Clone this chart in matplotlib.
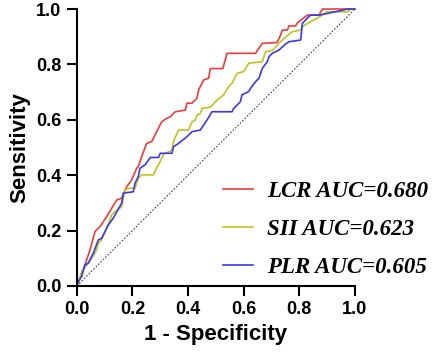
import matplotlib
matplotlib.use("Agg")
import matplotlib.pyplot as plt

# ROC curves (1 - specificity, sensitivity)
lcr_x = [0, 0.005, 0.029, 0.047, 0.065, 0.083, 0.107, 0.125, 0.143, 0.161, 0.179, 0.197,
         0.215, 0.221, 0.233, 0.251, 0.269, 0.287, 0.305, 0.323, 0.336, 0.354, 0.39, 0.396,
         0.414, 0.432, 0.438, 0.456, 0.474, 0.48, 0.525, 0.54, 0.643, 0.649, 0.667, 0.72,
         0.733, 0.739, 0.757, 0.763, 0.787, 0.793, 0.829, 0.871, 0.883, 1.0]
lcr_y = [0, 0.01, 0.076, 0.13, 0.196, 0.214, 0.25, 0.28, 0.31, 0.317, 0.358, 0.383,
         0.425, 0.431, 0.467, 0.515, 0.521, 0.557, 0.593, 0.605, 0.611, 0.629, 0.635, 0.66,
         0.66, 0.678, 0.708, 0.744, 0.75, 0.785, 0.785, 0.84, 0.84, 0.85, 0.876, 0.879,
         0.906, 0.924, 0.924, 0.939, 0.939, 0.95, 0.978, 0.978, 1.0, 1.0]

sii_x = [0, 0.017, 0.041, 0.053, 0.071, 0.077, 0.089, 0.119, 0.125, 0.137, 0.161, 0.173,
         0.191, 0.209, 0.221, 0.233, 0.275, 0.288, 0.3, 0.312, 0.342, 0.348, 0.366, 0.402,
         0.414, 0.426, 0.432, 0.444, 0.45, 0.48, 0.504, 0.528, 0.546, 0.558, 0.577, 0.6,
         0.618, 0.667, 0.679, 0.703, 0.727, 0.745, 0.775, 0.805, 0.811, 0.841, 0.865, 0.901,
         0.974, 0.986, 1.0]
sii_y = [0, 0.052, 0.082, 0.1, 0.13, 0.154, 0.166, 0.238, 0.256, 0.268, 0.286, 0.347,
         0.353, 0.353, 0.389, 0.401, 0.401, 0.428, 0.45, 0.476, 0.49, 0.524, 0.563, 0.563,
         0.593, 0.599, 0.617, 0.623, 0.641, 0.645, 0.671, 0.69, 0.72, 0.732, 0.768, 0.774,
         0.804, 0.81, 0.846, 0.85, 0.876, 0.894, 0.918, 0.924, 0.936, 0.955, 0.967, 0.99,
         0.99, 1.0, 1.0]

plr_x = [0, 0.005, 0.017, 0.029, 0.041, 0.059, 0.077, 0.089, 0.113, 0.131, 0.161, 0.167,
         0.203, 0.209, 0.221, 0.227, 0.245, 0.264, 0.294, 0.3, 0.342, 0.348, 0.366, 0.396,
         0.414, 0.444, 0.456, 0.468, 0.486, 0.558, 0.564, 0.588, 0.594, 0.618, 0.625, 0.643,
         0.655, 0.667, 0.685, 0.691, 0.703, 0.727, 0.751, 0.763, 0.805, 0.811, 0.829, 0.841,
         0.871, 0.906, 0.974, 1.0]
plr_y = [0, 0.016, 0.034, 0.076, 0.082, 0.118, 0.166, 0.172, 0.22, 0.245, 0.299, 0.335,
         0.34, 0.371, 0.395, 0.425, 0.437, 0.464, 0.464, 0.479, 0.479, 0.503, 0.515, 0.539,
         0.557, 0.563, 0.581, 0.599, 0.629, 0.629, 0.641, 0.665, 0.69, 0.702, 0.714, 0.738,
         0.75, 0.786, 0.81, 0.828, 0.84, 0.852, 0.874, 0.882, 0.888, 0.948, 0.967, 0.978,
         0.978, 0.985, 1.0, 1.0]

labels = ['LCR AUC=0.680', 'SII AUC=0.623', 'PLR AUC=0.605']
colors = ['#ee3b3b', '#c2c21e', '#3a3ae6']

fig = plt.figure(figsize=(4.32, 3.61), dpi=100)
ax = fig.add_axes([0.178, 0.208, 0.6435, 0.767])

ax.plot([0, 1], [0, 1], color='#444444', lw=0.8, ls=(0, (1.5, 1.5)))
for xs, ys, lab, c in zip([lcr_x, sii_x, plr_x], [lcr_y, sii_y, plr_y], labels, colors):
    ax.plot(xs, ys, color=c, lw=1.2, label=lab, clip_on=False)

ax.set_xlim(0, 1)
ax.set_ylim(0, 1)
ticks = [0, 0.2, 0.4, 0.6, 0.8, 1.0]
ax.set_xticks(ticks)
ax.set_yticks(ticks)
ax.set_xticklabels(['%.1f' % t for t in ticks])
ax.set_yticklabels(['%.1f' % t for t in ticks])
for sp in ['top', 'right']:
    ax.spines[sp].set_visible(False)
for sp in ['left', 'bottom']:
    ax.spines[sp].set_linewidth(1.5)
ax.tick_params(length=7, width=1.5, pad=4, labelsize=13)
for lbl in ax.get_xticklabels() + ax.get_yticklabels():
    lbl.set_fontfamily('Liberation Sans')
    lbl.set_fontweight('bold')

ax.set_xlabel('1 - Specificity', fontsize=16, fontweight='bold', family='Liberation Sans')
ax.set_ylabel('Sensitivity', fontsize=16, fontweight='bold', family='Liberation Sans')

fig.legend(loc='upper left', bbox_to_anchor=(223 / 432, 1 - 181 / 361), frameon=False,
           borderpad=0, borderaxespad=0, handlelength=1.31, handletextpad=0.6,
           labelspacing=0.74,
           prop={'family': 'Liberation Serif', 'style': 'italic', 'weight': 'bold', 'size': 16.5})

fig.savefig('out.png', dpi=100)
